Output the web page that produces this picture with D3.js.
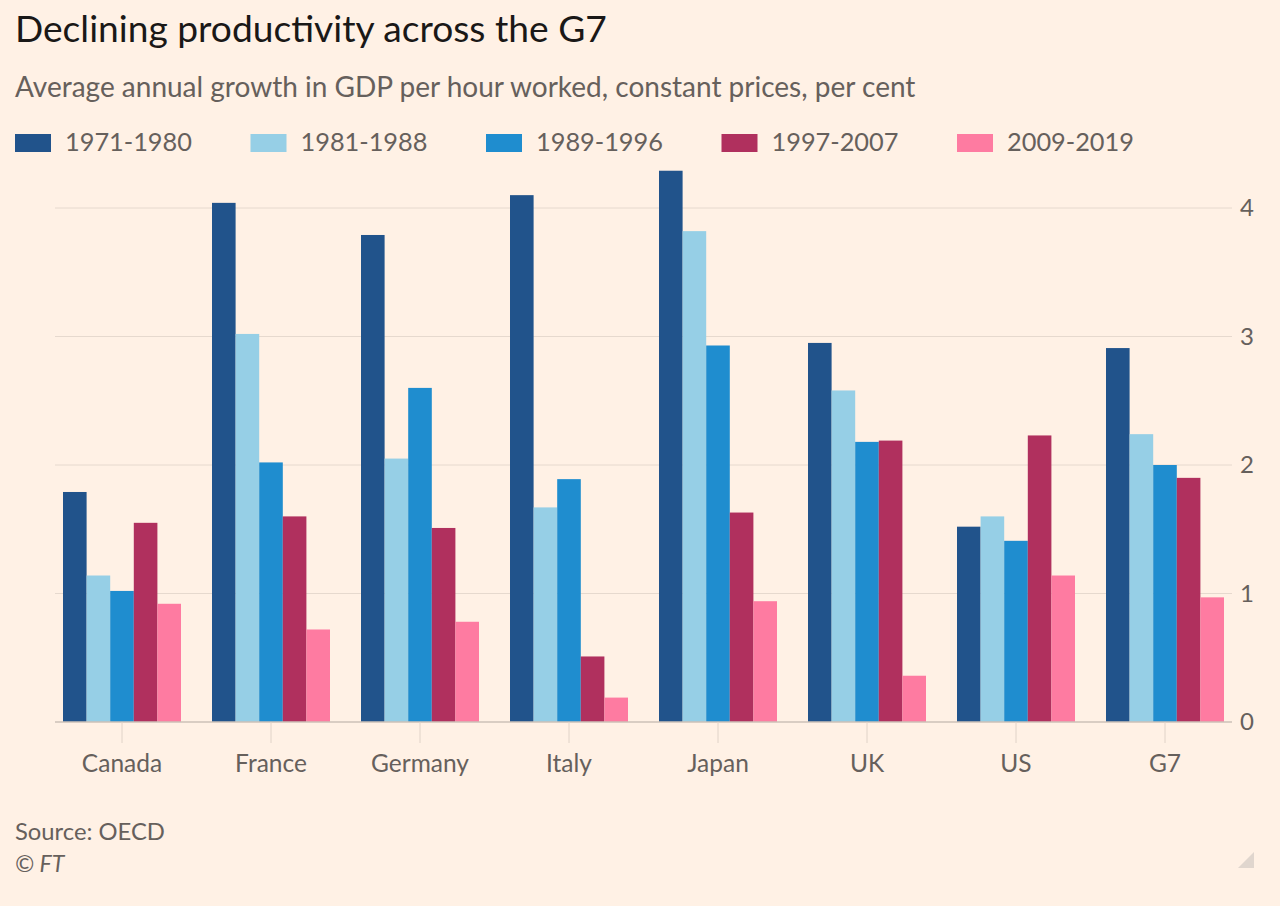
<!DOCTYPE html>
<html>
<head>
<meta charset="utf-8">
<script src="https://cdn.jsdelivr.net/npm/d3@7"></script>
<style>
  html, body { margin: 0; padding: 0; background: #fff1e5; }
  svg { display: block; }
  text { font-family: Lato, "Open Sans", sans-serif; }
</style>
</head>
<body>
<svg id="chart" width="1280" height="906"></svg>
<script>
const categories = ["Canada", "France", "Germany", "Italy", "Japan", "UK", "US", "G7"];
const seriesNames = ["1971-1980", "1981-1988", "1989-1996", "1997-2007", "2009-2019"];
const s1971_1980 = [1.79, 4.04, 3.79, 4.10, 4.29, 2.95, 1.52, 2.91];
const s1981_1988 = [1.14, 3.02, 2.05, 1.67, 3.82, 2.58, 1.60, 2.24];
const s1989_1996 = [1.02, 2.02, 2.60, 1.89, 2.93, 2.18, 1.41, 2.00];
const s1997_2007 = [1.55, 1.60, 1.51, 0.51, 1.63, 2.19, 2.23, 1.90];
const s2009_2019 = [0.92, 0.72, 0.78, 0.19, 0.94, 0.36, 1.14, 0.97];
const seriesValues = [s1971_1980, s1981_1988, s1989_1996, s1997_2007, s2009_2019];
const yTicks = [0, 1, 2, 3, 4];
const colors = ["#21538b", "#96cfe6", "#1f8dcf", "#b0305e", "#fe7ba1"];

const svg = d3.select("#chart");
const W = 1280, H = 906;
svg.append("rect").attr("width", W).attr("height", H).attr("fill", "#fff1e5");

function fitWidth(sel, target) {
  const w = sel.node().getComputedTextLength();
  const fs = parseFloat(sel.attr("font-size"));
  sel.attr("font-size", fs * target / w);
}

// Title & subtitle
const title = svg.append("text").attr("x", 15).attr("y", 42)
  .attr("font-size", 36).attr("fill", "#1a1817")
  .text("Declining productivity across the G7");
fitWidth(title, 592);
const sub = svg.append("text").attr("x", 15).attr("y", 97)
  .attr("font-size", 26).attr("fill", "#66605c")
  .text("Average annual growth in GDP per hour worked, constant prices, per cent");
fitWidth(sub, 901);

// Legend
const legendX = d3.scalePoint().domain(seriesNames).range([15, 957]);
const lg = svg.append("g").selectAll("g").data(seriesNames).join("g")
  .attr("transform", d => `translate(${legendX(d)},0)`);
lg.append("rect").attr("x", 0).attr("y", 134).attr("width", 36).attr("height", 18)
  .attr("fill", (d, i) => colors[i]);
lg.append("text").attr("x", 50).attr("y", 151).attr("font-size", 25)
  .attr("fill", "#66605c").text(d => d)
  .each(function() { fitWidth(d3.select(this), 127); });

// Scales
const x0 = d3.scaleBand().domain(categories).range([47.5, 1239.5])
  .paddingInner(31 / 149).paddingOuter(31 / 298);
const x1 = d3.scaleBand().domain(seriesNames).range([0, x0.bandwidth()]);
const y = d3.scaleLinear().domain([0, 4]).range([722, 208]);

// Gridlines
const gridLeft = 55, gridRight = 1232;
svg.append("g").selectAll("line").data(yTicks.filter(t => t !== 0)).join("line")
  .attr("x1", gridLeft).attr("x2", gridRight)
  .attr("y1", d => y(d)).attr("y2", d => y(d))
  .attr("stroke", "#e6d9ce").attr("stroke-width", 1);

// Y axis on right
const yAxis = d3.axisRight(y).tickValues(yTicks).tickSize(0).tickPadding(0)
  .tickFormat(d3.format("d"));
const gy = svg.append("g").attr("transform", "translate(1240,0)").call(yAxis);
gy.select(".domain").remove();
gy.selectAll("text").attr("font-size", 24).attr("fill", "#66605c")
  .attr("font-family", "Lato, 'Open Sans', sans-serif");

// Bars
const groups = svg.append("g").selectAll("g").data(categories).join("g")
  .attr("transform", d => `translate(${x0(d)},0)`);
groups.selectAll("rect")
  .data((c, ci) => seriesNames.map((s, si) => ({ s, si, v: seriesValues[si][ci] })))
  .join("rect")
  .attr("x", d => x1(d.s)).attr("width", x1.bandwidth())
  .attr("y", d => y(d.v)).attr("height", d => y(0) - y(d.v))
  .attr("fill", d => colors[d.si]);

// Baseline
svg.append("line").attr("x1", gridLeft).attr("x2", gridRight)
  .attr("y1", y(0)).attr("y2", y(0)).attr("stroke", "#ccc1b7").attr("stroke-width", 1.5);

// X axis
const xAxis = d3.axisBottom(x0).tickSize(21).tickPadding(12);
const gx = svg.append("g").attr("transform", `translate(0,${y(0)})`).call(xAxis);
gx.select(".domain").remove();
gx.selectAll(".tick line").attr("stroke", "#e0d3c8");
gx.selectAll("text").attr("font-size", 24.5).attr("fill", "#66605c")
  .attr("font-family", "Lato, 'Open Sans', sans-serif");

// Source
const src = svg.append("text").attr("x", 15).attr("y", 840).attr("font-size", 21)
  .attr("fill", "#66605c").text("Source: OECD");
fitWidth(src, 150);
svg.append("text").attr("x", 15).attr("y", 872).attr("font-size", 23)
  .attr("font-style", "italic").attr("fill", "#66605c").text("© FT");

// Resize grip
svg.append("path").attr("d", "M1254,852 L1254,868 L1238,868 Z").attr("fill", "#e0d6ce");
</script>
</body>
</html>
